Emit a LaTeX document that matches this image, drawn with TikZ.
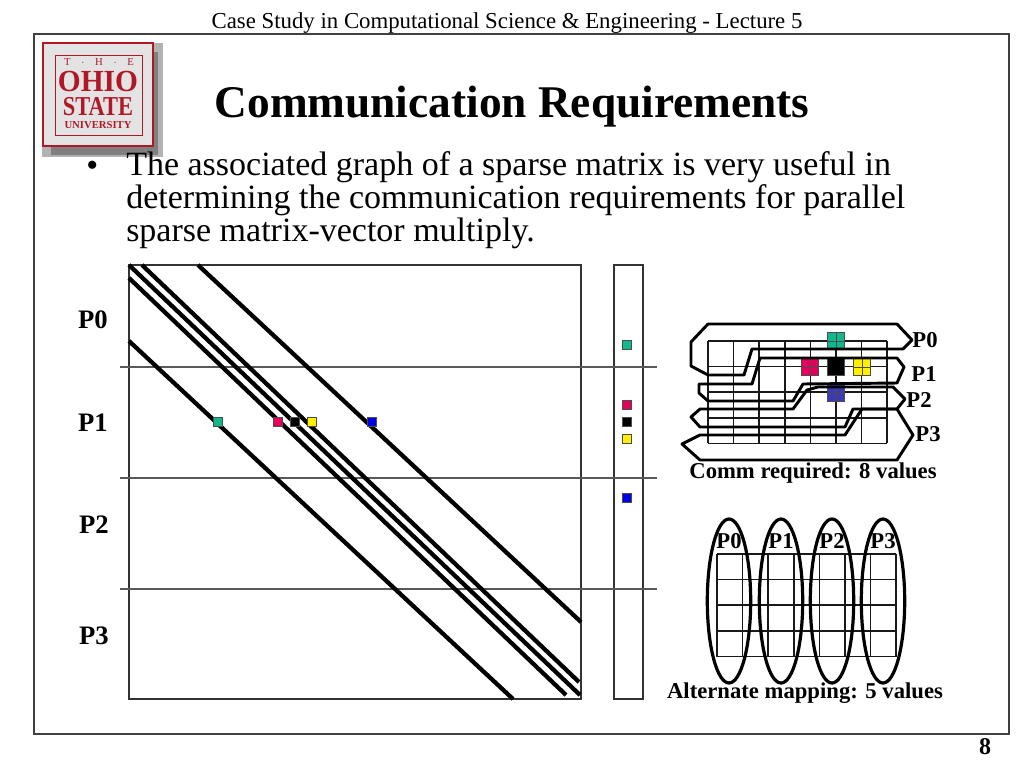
\documentclass[tikz,border=0pt]{standalone}
\usepackage{fontspec}
\setmainfont{Liberation Serif}
\definecolor{tealcell}{HTML}{10B88C}
\definecolor{crimson}{HTML}{E4005C}
\definecolor{bluecell}{HTML}{3A3AB4}
\definecolor{yellowcell}{HTML}{FFF000}
\definecolor{crestred}{HTML}{B01828}
\begin{document}
\begin{tikzpicture}[
  x=0.75pt, y=-0.75pt,
  diag/.style={line width=3.2pt, black},
  rule/.style={line width=0.8pt, black!65},
  box/.style={line width=0.8pt, black!80},
  cell/.style={line width=1.3pt, black!90},
  blob/.style={line width=2.2pt, black, line join=round},
  oval/.style={line width=2.4pt, black},
  mark/.style={draw=black!70, line width=0.3pt, fill=#1, minimum size=6.8pt, inner sep=0pt},
  plain/.style={draw=black!70, line width=0.5pt, fill=#1, minimum size=12.8pt, inner sep=0pt},
  tile/.style={plain=#1,
    path picture={\draw[black!70, line width=0.5pt] (path picture bounding box.north) -- (path picture bounding box.south)
      (path picture bounding box.west) -- (path picture bounding box.east);}},
  title/.style={font=\fontsize{34}{34}\selectfont\bfseries},
  body/.style={font=\fontsize{25.5}{25.5}\selectfont, anchor=base west, inner sep=0pt},
  plabel/.style={font=\fontsize{20}{20}\selectfont\bfseries, inner sep=0pt},
  slabel/.style={font=\fontsize{17}{17}\selectfont\bfseries, inner sep=0pt},
  note/.style={font=\fontsize{17}{17}\selectfont\bfseries, inner sep=0pt},
  crest/.style={text=crestred, inner sep=0pt},
]
  \useasboundingbox (0,0) rectangle (1024,768);
  \draw[line width=0.8pt, black!75] (34,34) rectangle (1009,734);
  \node[font=\fontsize{17.1}{17}\selectfont, inner sep=0pt] (header) at (507,23) {Case Study in Computational Science \& Engineering - Lecture 5};
  \node[font=\fontsize{18}{18}\selectfont\bfseries, inner sep=0pt] (page) at (985,747) {8};

  % crest
  \fill[black!30] (42,43) rectangle (163,157);
  \fill[black!50] (51,52) rectangle (158,155);
  \draw[crestred, fill=black!11, line width=0.9pt] (43,43) rectangle (153,146);
  \draw[crestred, line width=0.4pt] (55,55) rectangle (142,135);
  \node[crest, font=\fontsize{8}{8}\selectfont] (the) at (99,62) {T\hspace{1em}$\cdot$\hspace{1em}H\hspace{1em}$\cdot$\hspace{1em}E};
  \node[crest, font=\fontsize{23}{23}\selectfont\bfseries, xscale=0.96] (ohio) at (98,81) {OHIO};
  \node[crest, font=\fontsize{20.5}{20.5}\selectfont\bfseries, xscale=0.82] (state) at (98,106.5) {STATE};
  \node[crest, font=\fontsize{8}{8}\selectfont\bfseries] (osu) at (98,125.5) {UNIVERSITY};

  \node[title, inner sep=0pt] (heading) at (512,107) {Communication Requirements};
  \node[body] (dot) at (86,176) {•};
  \node[body] (line1) at (126,175) {The associated graph of a sparse matrix is very useful in};
  \node[body] (line2) at (126,208) {determining the communication requirements for parallel};
  \node[body] (line3) at (126,241) {sparse matrix-vector multiply.};

  % matrix and vector
  \draw[box] (129,265) rectangle (581,699);
  \draw[box] (614,265) rectangle (643,699);
  \foreach \y in {367,478,589}
    \draw[rule] (120,\y) -- (657,\y);
  \draw[diag] (142,265) -- (579,682);
  \draw[diag] (129,265) -- (580,695);
  \draw[diag] (129,278) -- (566,695);
  \draw[diag] (129,341) -- (513,699);
  \draw[diag] (198,265) -- (581,622);
  \foreach \n/\x/\y/\c in {a/218/345/tealcell, b/278/405/crimson, c/295/422/black, d/312/439/yellowcell, e/372/498/blue!90!black} {
    \node[mark=\c] (m\n) at (\x,422) {};
    \node[mark=\c] (v\n) at (627,\y) {};
  }
  \node[plabel] (p0) at (93,320) {P0};
  \node[plabel] (p1) at (93,423) {P1};
  \node[plabel] (p2) at (94,525) {P2};
  \node[plabel] (p3) at (94,636) {P3};

  % row mapping
  \foreach \i in {0,...,7}
    \draw[cell] (708+\i*25.6,341) -- (708+\i*25.6,443);
  \foreach \j in {0,...,4}
    \draw[cell] (708,341+\j*25.6) -- (887,341+\j*25.6);
  \node[tile=tealcell] (t0) at (836,341) {};
  \node[tile=crimson] (t1) at (810,367) {};
  \node[plain=black] (t2) at (836,367) {};
  \node[tile=yellowcell] (t3) at (862,367) {};
  \node[tile=bluecell] (t4) at (836,393) {};
  \draw[blob] (708,324) -- (897,324) -- (912,340) -- (903,349) -- (752,349) -- (744,375) -- (708,375) -- (691,366) -- (691,342) -- cycle;
  \draw[blob] (760,358) -- (897,358) -- (904,367) -- (897,383) -- (803,384) -- (793,401) -- (708,401) -- (699,393) -- (699,384) -- (752,384) -- cycle;
  \draw[blob] (818,387) -- (893,387) -- (905,399) -- (897,409) -- (853,409) -- (845,427) -- (700,427) -- (691,417) -- (700,409) -- (793,409) -- (807,390) -- cycle;
  \draw[blob] (862,409) -- (897,409) -- (913,435) -- (897,460) -- (700,460) -- (682,444) -- (700,435) -- (845,435) -- cycle;
  \node[slabel] (r0) at (925,340) {P0};
  \node[slabel] (r1) at (924,374) {P1};
  \node[slabel] (r2) at (919,400) {P2};
  \node[slabel] (r3) at (928,434) {P3};
  \node[note] (comm) at (813,473) {Comm required: 8 values};

  % alternate mapping
  \foreach \i in {0,...,7}
    \draw[cell] (717+\i*25.6,554) -- (717+\i*25.6,657);
  \foreach \j in {0,...,4}
    \draw[cell] (717,554+\j*25.6) -- (896,554+\j*25.6);
  \foreach \n/\x in {0/729,1/781,2/832,3/883} {
    \draw[oval] (\x,601) ellipse [x radius=21.7, y radius=82];
    \node[slabel] (c\n) at (\x,541) {P\n};
  }
  \node[note] (alt) at (805,693) {Alternate mapping: 5 values};
\end{tikzpicture}
\end{document}
